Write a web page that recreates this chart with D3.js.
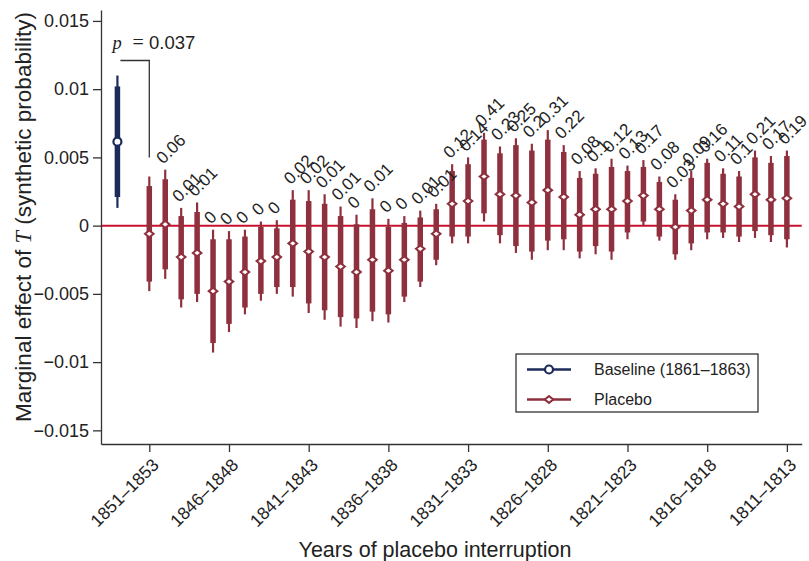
<!DOCTYPE html>
<html>
<head>
<meta charset="utf-8">
<script src="https://cdn.jsdelivr.net/npm/d3@7/dist/d3.min.js"></script>
<style>
body{margin:0;background:#fff}
svg{display:block;font-family:"Liberation Sans",Arial,Helvetica,sans-serif}
</style>
</head>
<body>
<svg id="chart" width="809" height="561"></svg>
<script>
// placebo windows, most recent first
let windows = ["1851–1853","1850–1852","1849–1851","1848–1850","1847–1849","1846–1848",
    "1845–1847","1844–1846","1843–1845","1842–1844","1841–1843","1840–1842","1839–1841",
    "1838–1840","1837–1839","1836–1838","1835–1837","1834–1836","1833–1835","1832–1834",
    "1831–1833","1830–1832","1829–1831","1828–1830","1827–1829","1826–1828","1825–1827",
    "1824–1826","1823–1825","1822–1824","1821–1823","1820–1822","1819–1821","1818–1820",
    "1817–1819","1816–1818","1815–1817","1814–1816","1813–1815","1812–1814","1811–1813"]

let xTickLabels = ["1851–1853","1846–1848","1841–1843","1836–1838","1831–1833",
    "1826–1828","1821–1823","1816–1818","1811–1813"]

let yTicks = [-0.015,-0.01,-0.005,0,0.005,0.01,0.015]
let yTickLabels = ["−0.015","−0.01","−0.005","0","0.005","0.01","0.015"]

let est = [-0.0006,0.0001,-0.0023,-0.0020,-0.0048,-0.0041,-0.0034,-0.0026,-0.0023,-0.0013,
    -0.0019,-0.0023,-0.0030,-0.0034,-0.0025,-0.0033,-0.0025,-0.0017,-0.0006,0.0016,
    0.0018,0.0036,0.0023,0.0022,0.0017,0.0026,0.0021,0.0008,0.0012,0.0012,
    0.0018,0.0022,0.0012,-0.0001,0.0011,0.0019,0.0016,0.0014,0.0023,0.0019,0.0020]

let lo90 = [-0.0041,-0.0032,-0.0054,-0.0050,-0.0086,-0.0072,-0.0060,-0.0050,-0.0045,-0.0045,
    -0.0057,-0.0062,-0.0067,-0.0068,-0.0063,-0.0065,-0.0052,-0.0041,-0.0025,-0.0008,
    -0.0008,0.0009,-0.0007,-0.0015,-0.0019,-0.0011,-0.0010,-0.0019,-0.0015,-0.0019,
    -0.0005,0.0003,-0.0008,-0.0021,-0.0013,-0.0005,-0.0005,-0.0008,-0.0004,-0.0007,-0.0010]

let hi90 = [0.0029,0.0034,0.0007,0.0010,-0.0010,-0.0010,-0.0008,-0.0001,-0.0002,0.0019,
    0.0018,0.0016,0.0007,0.0001,0.0012,-0.0001,0.0002,0.0006,0.0012,0.0040,
    0.0045,0.0063,0.0053,0.0059,0.0055,0.0063,0.0054,0.0035,0.0038,0.0043,
    0.0040,0.0043,0.0032,0.0019,0.0035,0.0046,0.0038,0.0036,0.0050,0.0046,0.0051]

let lo95 = [-0.0048,-0.0039,-0.0060,-0.0056,-0.0093,-0.0078,-0.0065,-0.0055,-0.0050,-0.0052,
    -0.0064,-0.0069,-0.0074,-0.0075,-0.0070,-0.0071,-0.0056,-0.0045,-0.0029,-0.0013,
    -0.0013,0.0003,-0.0013,-0.0020,-0.0025,-0.0018,-0.0018,-0.0024,-0.0021,-0.0025,
    -0.0010,0.0000,-0.0011,-0.0025,-0.0018,-0.0010,-0.0009,-0.0012,-0.0009,-0.0012,-0.0016]

let hi95 = [0.0036,0.0041,0.0013,0.0017,-0.0003,-0.0004,-0.0003,0.0003,0.0004,0.0026,
    0.0026,0.0023,0.0014,0.0008,0.0020,0.0005,0.0007,0.0011,0.0016,0.0045,
    0.0050,0.0068,0.0058,0.0064,0.0060,0.0070,0.0059,0.0040,0.0042,0.0049,
    0.0044,0.0048,0.0036,0.0023,0.0040,0.0049,0.0042,0.0040,0.0055,0.0051,0.0055]

let pvals = [null,"0.06","0.01","0.01","0","0","0","0","0","0.02",
    "0.02","0.01","0.01","0","0.01","0","0","0.01","0.01","0.12",
    "0.14","0.41","0.23","0.25","0.2","0.31","0.22","0.08","0.1","0.12",
    "0.13","0.17","0.08","0.03","0.09","0.16","0.11","0.1","0.21","0.17","0.19"]

// baseline (1861–1863): estimate, 90% and 95% bounds
let baseline = {pos: -2, est: 0.00615, lo90: 0.0021, hi90: 0.0102, lo95: 0.0013, hi95: 0.0110}
let baselineP = "0.037"

let red = "#8e303d", zeroRed = "#c8102e", navy = "#1c2b5c", ink = "#222"

let svg = d3.select("#chart")

let x = d3.scaleLinear().domain([-3.03, 40.93]).range([101, 801.7])
let y = d3.scaleLinear().domain([-0.016, 0.0158]).range([444, 10])

// axes
let yAxis = svg.append("g")
    .attr("transform", "translate(101,0)")
    .call(d3.axisLeft(y).tickValues(yTicks).tickSize(8).tickSizeOuter(0)
        .tickFormat((d,i) => yTickLabels[i]))
yAxis.selectAll("text").attr("font-size", 18).attr("fill", ink).attr("x", -12)
    .attr("font-family", "Liberation Sans, Arial, sans-serif")

let xAxis = svg.append("g")
    .attr("transform", "translate(0,444)")
    .call(d3.axisBottom(x).tickValues(xTickLabels.map(l => windows.indexOf(l)))
        .tickSize(8).tickSizeOuter(0).tickFormat(i => windows[i]))
xAxis.selectAll("text")
    .attr("font-size", 17.5).attr("fill", ink)
    .attr("font-family", "Liberation Sans, Arial, sans-serif")
    .attr("text-anchor", "end").attr("y", 0).attr("dy", 0)
    .attr("transform", "translate(10,22) rotate(-45)")

svg.selectAll(".domain, .tick line").attr("stroke", "#333").attr("stroke-width", 1.3)

// zero line
svg.append("line")
    .attr("x1", 102).attr("x2", 801.7)
    .attr("y1", y(0)).attr("y2", y(0))
    .attr("stroke", zeroRed).attr("stroke-width", 2)

// placebo intervals
let idx = d3.range(est.length)
let g = svg.append("g")

g.selectAll(".thin").data(idx).enter().append("line")
    .attr("class", "thin")
    .attr("x1", i => x(i)).attr("x2", i => x(i))
    .attr("y1", i => y(lo95[i])).attr("y2", i => y(hi95[i]))
    .attr("stroke", red).attr("stroke-width", 2.2)

g.selectAll(".thick").data(idx).enter().append("line")
    .attr("class", "thick")
    .attr("x1", i => x(i)).attr("x2", i => x(i))
    .attr("y1", i => y(lo90[i])).attr("y2", i => y(hi90[i]))
    .attr("stroke", red).attr("stroke-width", 5.5)

let diamond = (cx, cy) => `M${cx-4.3},${cy}L${cx},${cy-3.4}L${cx+4.3},${cy}L${cx},${cy+3.4}Z`

g.selectAll(".pt").data(idx).enter().append("path")
    .attr("class", "pt")
    .attr("d", i => diamond(x(i), y(est[i])))
    .attr("fill", "#fff").attr("stroke", red).attr("stroke-width", 2)

g.selectAll(".plab").data(idx.filter(i => pvals[i] != null)).enter().append("text")
    .attr("class", "plab")
    .attr("transform", i => `translate(${x(i)-2},${y(hi95[i])-5}) rotate(-45)`)
    .attr("font-size", 17).attr("fill", ink)
    .text(i => pvals[i])

// baseline
let bx = x(baseline.pos)
svg.append("line").attr("x1", bx).attr("x2", bx)
    .attr("y1", y(baseline.lo95)).attr("y2", y(baseline.hi95))
    .attr("stroke", navy).attr("stroke-width", 2.2)
svg.append("line").attr("x1", bx).attr("x2", bx)
    .attr("y1", y(baseline.lo90)).attr("y2", y(baseline.hi90))
    .attr("stroke", navy).attr("stroke-width", 5.5)
svg.append("circle").attr("cx", bx).attr("cy", y(baseline.est)).attr("r", 4)
    .attr("fill", "#fff").attr("stroke", navy).attr("stroke-width", 2.2)

// p-value bracket between baseline and first placebo
svg.append("path")
    .attr("d", `M${bx+3},${y(0.0121)}H${x(0)}V${y(0.005)}`)
    .attr("fill", "none").attr("stroke", "#333").attr("stroke-width", 1.3)
let pl = svg.append("g").attr("font-size", 18.5).attr("fill", ink)
pl.append("text").attr("x", 112.5).attr("y", 48.5)
    .attr("font-family", "Liberation Serif, Times New Roman, serif").attr("font-style", "italic").text("p")
pl.append("text").attr("x", 132.5).attr("y", 48.5)
    .attr("font-family", "Liberation Serif, Times New Roman, serif").attr("font-size", 20).text("=")
pl.append("text").attr("x", 149).attr("y", 48.5).text(baselineP)

// axis titles
let yt = svg.append("text")
    .attr("transform", "translate(31,217) rotate(-90)")
    .attr("text-anchor", "middle").attr("font-size", 22.5).attr("fill", ink)
yt.append("tspan").text("Marginal effect of ")
yt.append("tspan").attr("font-family", "Liberation Serif, Times New Roman, serif")
    .attr("font-style", "italic").text("T")
yt.append("tspan").text(" (synthetic probability)")

svg.append("text").attr("x", 435).attr("y", 557)
    .attr("text-anchor", "middle").attr("font-size", 21.5).attr("fill", ink)
    .text("Years of placebo interruption")

// legend
let lg = svg.append("g")
lg.append("rect").attr("x", 516).attr("y", 354).attr("width", 242).attr("height", 58)
    .attr("fill", "#fff").attr("stroke", "#222").attr("stroke-width", 1.2)
let items = [
    {label: "Baseline (1861–1863)", color: navy, shape: "circle", yy: 369.5},
    {label: "Placebo", color: red, shape: "diamond", yy: 399.5}
]
items.forEach(it => {
    lg.append("line").attr("x1", 527).attr("x2", 571).attr("y1", it.yy).attr("y2", it.yy)
        .attr("stroke", it.color).attr("stroke-width", 2.5)
    if (it.shape == "circle")
        lg.append("circle").attr("cx", 549).attr("cy", it.yy).attr("r", 4)
            .attr("fill", "#fff").attr("stroke", it.color).attr("stroke-width", 2.2)
    else
        lg.append("path").attr("d", diamond(549, it.yy))
            .attr("fill", "#fff").attr("stroke", it.color).attr("stroke-width", 2)
    lg.append("text").attr("x", 594).attr("y", it.yy).attr("dy", "0.35em")
        .attr("font-size", 16).attr("fill", ink).text(it.label)
})
</script>
</body>
</html>
